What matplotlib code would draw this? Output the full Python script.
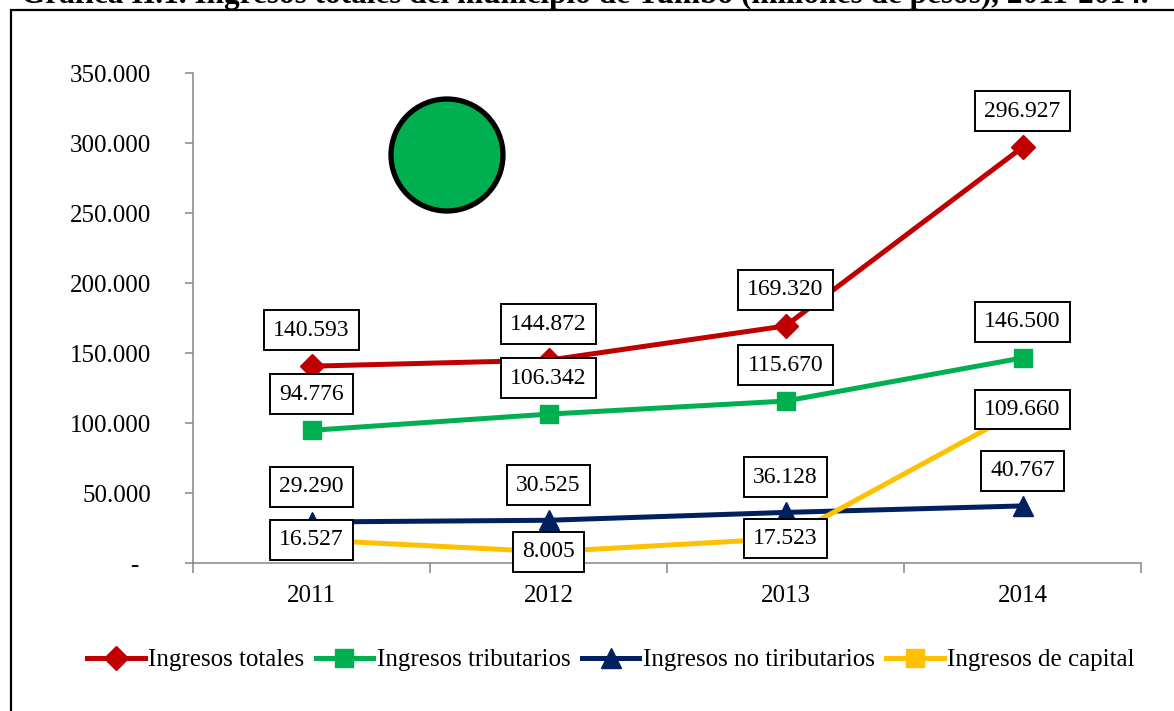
import matplotlib
matplotlib.use("Agg")
import matplotlib.pyplot as plt
from matplotlib.patches import Rectangle, Ellipse
from matplotlib.lines import Line2D

years = ["2011", "2012", "2013", "2014"]
ingresos_totales = [140593, 144872, 169320, 296927]
ingresos_tributarios = [94776, 106342, 115670, 146500]
ingresos_no_tributarios = [29290, 30525, 36128, 40767]
ingresos_capital = [16527, 8005, 17523, 109660]
series_names = ["Ingresos totales", "Ingresos tributarios",
                "Ingresos no tiributarios", "Ingresos de capital"]
y_ticks = [0, 50000, 100000, 150000, 200000, 250000, 300000, 350000]
title = "Gráfica II.1. Ingresos totales del municipio de Yumbo (millones de pesos), 2011-2014."

colors = ["#C00000", "#00B050", "#002060", "#FFC000"]
markers = ["D", "s", "^", "s"]
msizes = [12, 13, 15, 13]
label_dy = [36, 36, 35, 0]   # pixels above the point

plt.rcParams['font.family'] = ['Liberation Serif', 'DejaVu Serif']

W, H = 1174, 711
fig = plt.figure(figsize=(W / 100, H / 100), dpi=100)

# outer frame (cut by figure edges)
fig.patches.append(Rectangle((11 / W, -0.2), 1.5, 1.2 - 10 / H, transform=fig.transFigure,
                             fill=False, edgecolor="black", linewidth=1.6, zorder=0))

# title (partially cut at top, as in the source)
fig.text(585 / W, 1 - 3 / H, title, ha="center", va="baseline",
         fontsize=22.5, fontweight="bold")

ax = fig.add_axes([193 / W, 1 - 563 / H, (1141 - 193) / W, (563 - 73) / H])
x = list(range(len(years)))
all_series = [ingresos_totales, ingresos_tributarios, ingresos_no_tributarios, ingresos_capital]

for vals, name, c, m, ms in zip(all_series, series_names, colors, markers, msizes):
    ax.plot(x, vals, color=c, lw=3.6, marker=m, markersize=ms, label=name,
            solid_capstyle="round", zorder=3)

for vals, dy in zip(all_series, label_dy):
    for xi, v in zip(x, vals):
        txt = f"{v:,}".replace(",", ".")
        ax.annotate(txt, (xi, v), xytext=(0, dy * 0.72), textcoords="offset points",
                    ha="center", va="center", fontsize=17, zorder=5,
                    bbox=dict(boxstyle="square,pad=0.4", facecolor="white",
                              edgecolor="black", linewidth=1.4))

ax.set_xlim(-0.5, 3.5)
ax.set_ylim(0, 350000)
ax.set_yticks(y_ticks)
ax.set_yticklabels(["-  "] + [f"{t:,}".replace(",", ".") for t in y_ticks[1:]])
ax.set_xticks([-0.5, 0.5, 1.5, 2.5, 3.5])
ax.set_xticklabels([])
ax.set_xticks(x, minor=True)
ax.set_xticklabels(years, minor=True)
ax.tick_params(axis="x", which="major", direction="out", length=7, width=1.1, color="#868686")
ax.tick_params(axis="x", which="minor", length=0, pad=16, labelsize=18)
ax.tick_params(axis="y", direction="out", length=6, width=1.1, color="#868686",
               pad=24, labelsize=18)
for s in ["top", "right"]:
    ax.spines[s].set_visible(False)
for s in ["left", "bottom"]:
    ax.spines[s].set_color("#868686")
    ax.spines[s].set_linewidth(1.1)
ax.patch.set_alpha(0)

# green circle decoration
fig.patches.append(Ellipse((447 / W, 1 - 155 / H), 112 / W, 112 / H, transform=fig.transFigure,
                           facecolor="#00B050", edgecolor="black", linewidth=3.8, zorder=6))

handles = [Line2D([], [], color=c, lw=3.6, marker=m, markersize=ms)
           for c, m, ms in zip(colors, markers, msizes)]
fig.legend(handles, series_names, loc="center", bbox_to_anchor=(611 / W, 1 - 660 / H),
           ncol=4, frameon=False, fontsize=18, handlelength=2.3, handletextpad=0.15,
           columnspacing=0.45, borderpad=0)

fig.savefig("out.png", dpi=100)
